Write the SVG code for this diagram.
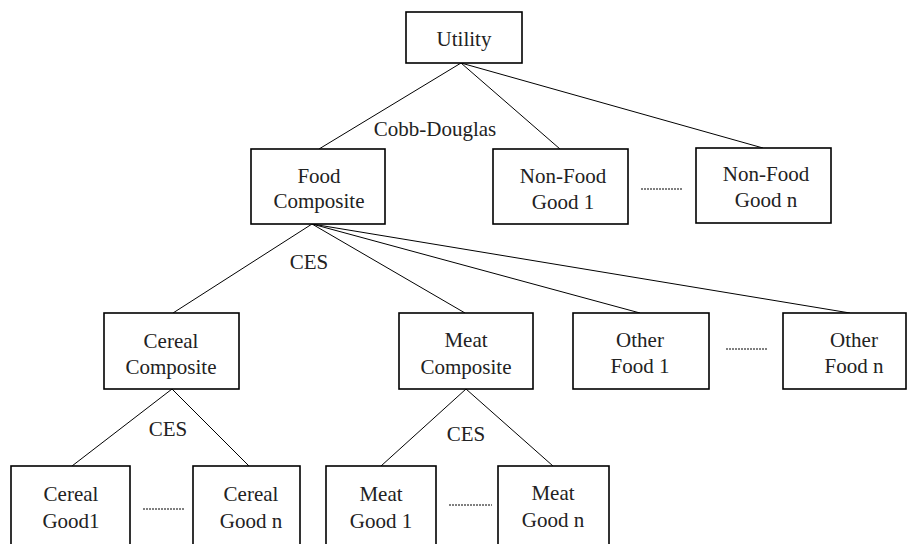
<svg xmlns="http://www.w3.org/2000/svg" width="907" height="544" viewBox="0 0 907 544" font-family="Liberation Serif, DejaVu Serif, Noto Serif, serif">
<style>
rect{fill:#fff;stroke:#000;stroke-width:1.6}
text{font-size:21px;fill:#222;text-anchor:middle}
.c line{stroke:#000;stroke-width:1}
.d line{stroke:#000;stroke-width:1;stroke-dasharray:2 1}
</style>
<rect x="0" y="0" width="907" height="544" style="stroke:none"/>
<g class="c" id="connectors">
<line x1="461" y1="63" x2="319" y2="149"/>
<line x1="461" y1="63" x2="560" y2="149"/>
<line x1="461" y1="63" x2="763" y2="148"/>
<line x1="312" y1="224" x2="173" y2="313"/>
<line x1="312" y1="224" x2="465" y2="313"/>
<line x1="312" y1="224" x2="640" y2="313"/>
<line x1="312" y1="224" x2="850" y2="313"/>
<line x1="172" y1="389" x2="72" y2="466"/>
<line x1="172" y1="389" x2="249" y2="466"/>
<line x1="466" y1="389" x2="381" y2="466"/>
<line x1="466" y1="389" x2="553" y2="466"/>
</g>
<g class="d" id="ellipses">
<line x1="641" y1="189" x2="683" y2="189"/>
<line x1="726" y1="349" x2="767" y2="349"/>
<line x1="143" y1="509" x2="184" y2="509"/>
<line x1="449" y1="505" x2="492" y2="505"/>
</g>
<g id="labels">
<text x="435" y="136">Cobb-Douglas</text>
<text x="309" y="269">CES</text>
<text x="168" y="436">CES</text>
<text x="466" y="441">CES</text>
</g>
<g id="utility"><rect x="406" y="12" width="116" height="51"/><text x="464" y="46">Utility</text></g>
<g id="food-composite"><rect x="251" y="149" width="134" height="75"/><text x="319" y="183">Food</text><text x="319" y="208">Composite</text></g>
<g id="nonfood-1"><rect x="493" y="149" width="135" height="75"/><text x="563" y="183">Non-Food</text><text x="563" y="209">Good 1</text></g>
<g id="nonfood-n"><rect x="696" y="148" width="135" height="75"/><text x="766" y="181">Non-Food</text><text x="766" y="207">Good n</text></g>
<g id="cereal-composite"><rect x="104" y="313" width="135" height="76"/><text x="171" y="348">Cereal</text><text x="171" y="374">Composite</text></g>
<g id="meat-composite"><rect x="399" y="313" width="134" height="76"/><text x="466" y="347">Meat</text><text x="466" y="374">Composite</text></g>
<g id="other-food-1"><rect x="573" y="313" width="136" height="76"/><text x="640" y="347">Other</text><text x="640" y="373">Food 1</text></g>
<g id="other-food-n"><rect x="783" y="313" width="123" height="76"/><text x="854" y="347">Other</text><text x="854" y="373">Food n</text></g>
<g id="cereal-good-1"><rect x="11" y="466" width="119" height="90"/><text x="71" y="501">Cereal</text><text x="71" y="528">Good1</text></g>
<g id="cereal-good-n"><rect x="193" y="466" width="107" height="90"/><text x="251" y="501">Cereal</text><text x="251" y="528">Good n</text></g>
<g id="meat-good-1"><rect x="326" y="466" width="110" height="90"/><text x="381" y="501">Meat</text><text x="381" y="528">Good 1</text></g>
<g id="meat-good-n"><rect x="498" y="466" width="111" height="90"/><text x="553" y="500">Meat</text><text x="553" y="527">Good n</text></g>
</svg>
